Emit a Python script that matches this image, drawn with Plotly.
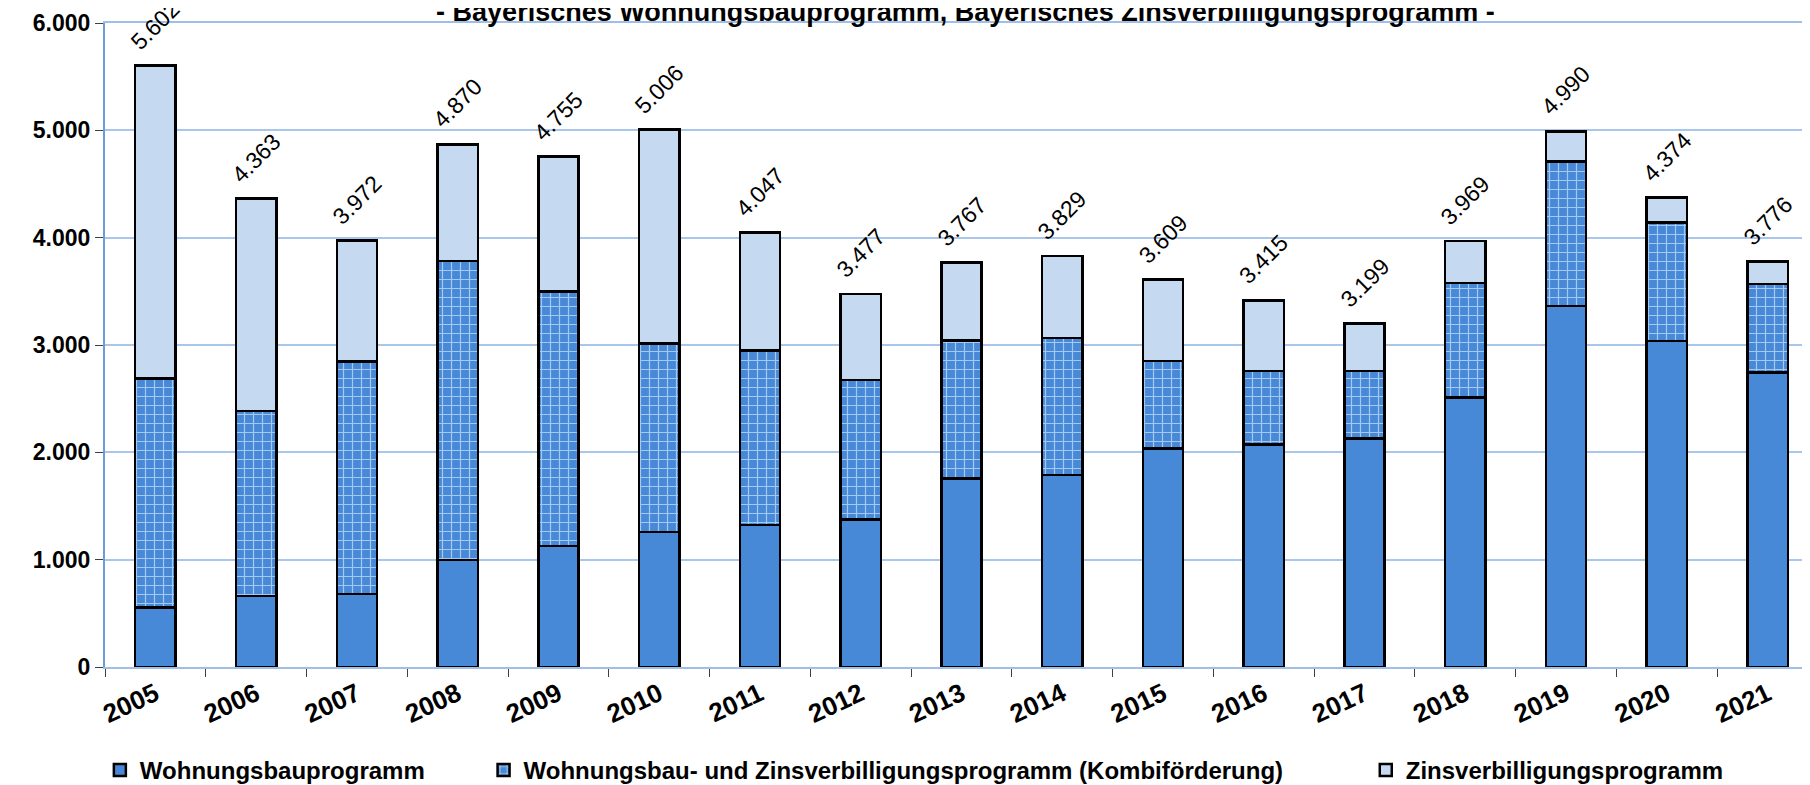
import plotly.graph_objects as go

years = ["2005", "2006", "2007", "2008", "2009", "2010", "2011", "2012", "2013",
         "2014", "2015", "2016", "2017", "2018", "2019", "2020", "2021"]
wohnungsbau = [553, 661, 679, 997, 1127, 1257, 1322, 1376, 1755, 1788, 2037, 2075,
               2131, 2513, 3365, 3038, 2746]
kombi = [2137, 1725, 2165, 2784, 2373, 1755, 1625, 1300, 1289, 1278, 812, 682,
         626, 1064, 1347, 1103, 822]
totals = [5602, 4363, 3972, 4870, 4755, 5006, 4047, 3477, 3767, 3829, 3609, 3415,
          3199, 3969, 4990, 4374, 3776]
zins = [t - a - b for t, a, b in zip(totals, wohnungsbau, kombi)]
total_labels = ["5.602", "4.363", "3.972", "4.870", "4.755", "5.006", "4.047", "3.477",
                "3.767", "3.829", "3.609", "3.415", "3.199", "3.969", "4.990", "4.374", "3.776"]
title_text = "- Bayerisches Wohnungsbauprogramm, Bayerisches Zinsverbilligungsprogramm -"
names = ["Wohnungsbauprogramm",
         "Wohnungsbau- und Zinsverbilligungsprogramm (Kombiförderung)",
         "Zinsverbilligungsprogramm"]

FONT = "Liberation Sans, Arial, sans-serif"
BLUE = "#4789D6"
LIGHT = "#C5D9F1"
EDGE = dict(color="black", width=2.5)

fig = go.Figure()
fig.add_trace(go.Bar(x=years, y=wohnungsbau, name=names[0], width=0.4,
                     marker=dict(color=BLUE, line=EDGE), legend="legend", showlegend=True))
fig.add_trace(go.Bar(x=years, y=kombi, name=names[1], width=0.4,
                     marker=dict(color=BLUE, line=EDGE,
                                 pattern=dict(shape="+", fgcolor="#A3C8F2", bgcolor=BLUE,
                                              size=9, solidity=0.25, fillmode="replace")),
                     legend="legend2", showlegend=True))
fig.add_trace(go.Bar(x=years, y=zins, name=names[2], width=0.4,
                     marker=dict(color=LIGHT, line=EDGE), legend="legend3", showlegend=True))

for i, (t, lab) in enumerate(zip(totals, total_labels)):
    fig.add_annotation(x=i, y=t, xref="x", yref="y", text=lab, showarrow=False,
                       textangle=-45, yshift=41, xanchor="center", yanchor="middle",
                       font=dict(family=FONT, size=23, color="black"))

leg_common = dict(orientation="h", xref="paper", yref="paper", y=-0.161,
                  yanchor="middle", xanchor="left", bgcolor="rgba(0,0,0,0)",
                  font=dict(family=FONT, size=24, color="black", weight="bold"))

fig.update_layout(
    width=1810, height=785,
    barmode="stack",
    separators=",.",
    showlegend=True,
    paper_bgcolor="white", plot_bgcolor="white",
    margin=dict(l=97, r=0, t=15, b=124),
    title=dict(text="<b>" + title_text + "</b>", x=0.529, xanchor="center",
               y=0.996, yanchor="middle", yref="container",
               font=dict(family=FONT, size=27, color="black")),
    legend=dict(x=-0.003, **leg_common),
    legend2=dict(x=0.221, **leg_common),
    legend3=dict(x=0.736, **leg_common),
    xaxis=dict(type="category", range=[-0.5, 16.5], tickangle=-25, tickson="boundaries",
               ticks="outside", ticklen=8, tickcolor="#404040", automargin=False,
               showline=True, linecolor="#9DBFE8", linewidth=2, mirror=True,
               tickfont=dict(family=FONT, size=26, color="black", weight="bold")),
    yaxis=dict(range=[0, 6000], dtick=1000, tickformat=",d", automargin=False,
               ticks="outside", ticklen=8, tickcolor="#404040",
               showgrid=True, gridcolor="#A9C6EC", gridwidth=1.5,
               showline=True, linecolor="#6C9BD8", linewidth=2, mirror=True,
               zeroline=False,
               tickfont=dict(family=FONT, size=23, color="black", weight="bold")),
)

fig.write_html("out.html")
